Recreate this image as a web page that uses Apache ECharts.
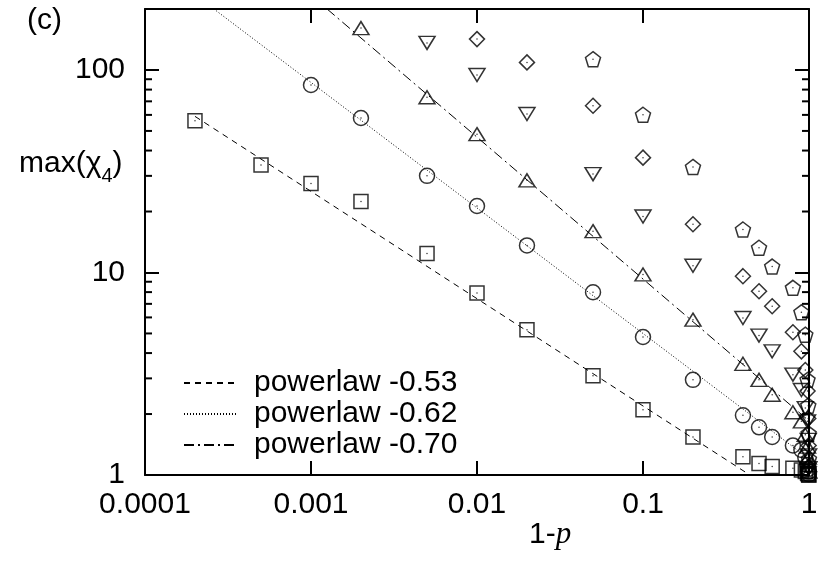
<!DOCTYPE html>
<html>
<head>
<meta charset="utf-8">
<script src="https://cdn.jsdelivr.net/npm/echarts@6/dist/echarts.min.js"></script>
<style>
  html, body { margin: 0; padding: 0; background: #fff; }
  #main { width: 818px; height: 570px; }
</style>
</head>
<body>
<div id="main"></div>
<script>
// axis ticks
const X_TICK_LABELS = ['0.0001', '0.001', '0.01', '0.1', '1'];
const Y_TICK_LABELS = ['1', '10', '100'];
const Y_MINOR = [2, 3, 4, 5, 6, 7, 8, 9, 20, 30, 40, 50, 60, 70, 80, 90];

// squares
const sqX = [0.0002, 0.0005, 0.001, 0.002, 0.005, 0.01, 0.02, 0.05, 0.1, 0.2, 0.4, 0.5, 0.6, 0.8, 0.9, 0.95, 0.98, 0.99, 0.995, 0.999];
const sqY = [56.1, 33.9, 27.5, 22.4, 12.4, 7.93, 5.22, 3.09, 2.10, 1.54, 1.23, 1.14, 1.10, 1.08, 1.06, 1.04, 1.02, 1.01, 1.0, 1.0];
// circles
const ciX = [0.001, 0.002, 0.005, 0.01, 0.02, 0.05, 0.1, 0.2, 0.4, 0.5, 0.6, 0.8, 0.9, 0.95, 0.98, 0.99, 0.995, 0.999];
const ciY = [84.3, 57.9, 30.0, 21.3, 13.6, 7.99, 4.80, 2.95, 1.97, 1.72, 1.54, 1.40, 1.33, 1.22, 1.12, 1.07, 1.04, 1.01];
// up triangles
const upX = [0.002, 0.005, 0.01, 0.02, 0.05, 0.1, 0.2, 0.4, 0.5, 0.6, 0.8, 0.9, 0.95, 0.98, 0.99, 0.995, 0.999];
const upY = [161, 73.3, 48.2, 28.5, 16.0, 9.78, 5.85, 3.54, 2.95, 2.49, 2.04, 1.84, 1.58, 1.38, 1.22, 1.12, 1.04];
// down triangles
const dnX = [0.005, 0.01, 0.02, 0.05, 0.1, 0.2, 0.4, 0.5, 0.6, 0.8, 0.9, 0.95, 0.98, 0.99, 0.995, 0.999];
const dnY = [136, 94.4, 60.6, 30.6, 18.9, 10.8, 5.96, 4.88, 4.08, 3.13, 2.63, 2.14, 1.84, 1.49, 1.25, 1.08];
// diamonds
const diX = [0.01, 0.02, 0.05, 0.1, 0.2, 0.4, 0.5, 0.6, 0.8, 0.9, 0.95, 0.98, 0.99, 0.995, 0.999];
const diY = [142, 109, 66.6, 36.9, 17.3, 9.59, 8.08, 6.81, 5.07, 4.08, 3.3, 2.6, 1.9, 1.4, 1.1];
// pentagons
const peX = [0.05, 0.1, 0.2, 0.4, 0.5, 0.6, 0.8, 0.9, 0.95, 0.98, 0.99, 0.995, 0.999];
const peY = [113, 60.1, 33.2, 16.3, 13.25, 10.7, 8.40, 6.36, 4.93, 2.95, 2.2, 1.6, 1.2];

// power law fits (end points)
const fit053X = [0.0002, 0.44];
const fit053Y = [59, 1];
const fit062X = [0.00026, 1];
const fit062Y = [200, 1.2];
const fit070X = [0.00125, 1];
const fit070Y = [200, 1.85];

const FONT = "'Liberation Sans', Arial, sans-serif";
const X_MIN = 0.0001, X_MAX = 1, Y_MIN = 1, Y_MAX = 200;

function zip(xs, ys) {
  return xs.map((x, i) => [x, ys[i]]);
}
function decade(v) {
  return Math.round(Math.log10(v));
}
function isPow10(v) {
  const l = Math.log10(v);
  return Math.abs(l - Math.round(l)) < 1e-6;
}

const pentagon = 'path://M0,-1L0.951,-0.309L0.588,0.809L-0.588,0.809L-0.951,-0.309Z';
const markStyle = { color: 'rgba(0,0,0,0)', borderColor: '#000', borderWidth: 1.5 };

function scatter(name, xs, ys, symbol, size, rotate) {
  return {
    name: name,
    type: 'scatter',
    data: zip(xs, ys),
    symbol: symbol,
    symbolSize: size,
    symbolRotate: rotate || 0,
    itemStyle: markStyle,
    z: 4,
    silent: true
  };
}
function fitLine(name, xs, ys, dash) {
  return {
    name: name,
    type: 'line',
    data: zip(xs, ys),
    symbol: 'none',
    lineStyle: { color: '#000', width: 1, type: dash },
    z: 3,
    silent: true
  };
}

const allPts = [].concat(zip(sqX, sqY), zip(ciX, ciY), zip(upX, upY), zip(dnX, dnY), zip(diX, diY), zip(peX, peY));

const xAxisBase = {
  type: 'log', logBase: 10, min: X_MIN, max: X_MAX,
  axisLine: { show: true, lineStyle: { color: '#000', width: 2 } },
  axisTick: { show: true, inside: true, length: 14, lineStyle: { color: '#000', width: 2 } },
  splitLine: { show: false }
};
const yAxisBase = {
  type: 'log', logBase: 10, min: Y_MIN, max: Y_MAX,
  axisLine: { show: true, lineStyle: { color: '#000', width: 2 } },
  axisTick: { show: true, inside: true, length: 14, lineStyle: { color: '#000', width: 2 } },
  splitLine: { show: false }
};

const chart = echarts.init(document.getElementById('main'));
const option = {
  animation: false,
  backgroundColor: '#fff',
  grid: { left: 145, right: 9, top: 9, bottom: 95, containLabel: false, outerBoundsMode: 'none' },
  xAxis: [
    Object.assign({}, xAxisBase, {
      position: 'bottom',
      axisLabel: {
        margin: 15, color: '#000', fontSize: 30, fontFamily: FONT,
        formatter: v => isPow10(v) ? X_TICK_LABELS[decade(v) + 4] : ''
      }
    }),
    Object.assign({}, xAxisBase, { position: 'top', axisLabel: { show: false } })
  ],
  yAxis: [
    Object.assign({}, yAxisBase, {
      position: 'left',
      axisLabel: {
        margin: 20, color: '#000', fontSize: 30, fontFamily: FONT,
        formatter: v => isPow10(v) ? Y_TICK_LABELS[decade(v)] : ''
      }
    }),
    Object.assign({}, yAxisBase, { position: 'right', axisLabel: { show: false } })
  ],
  legend: {
    data: ['powerlaw -0.53', 'powerlaw -0.62', 'powerlaw -0.70'],
    orient: 'vertical',
    left: 183, top: 368, padding: 0,
    itemWidth: 52, itemHeight: 14, itemGap: 1,
    itemStyle: { color: 'rgba(0,0,0,0)', borderWidth: 0 },
    textStyle: { color: '#000', fontSize: 30, fontFamily: FONT, lineHeight: 30, padding: [0, 0, 0, 13] },
    selectedMode: false
  },
  graphic: [
    { type: 'text', left: 27, top: 6, style: { text: '(c)', fontSize: 30, fontFamily: FONT, fill: '#000' } },
    {
      type: 'text', left: 19, top: 149,
      style: {
        text: '{n|max(χ}{s|4}{n|)}',
        rich: {
          n: { fontSize: 30, fontFamily: FONT, lineHeight: 44, color: '#000' },
          s: { fontSize: 20, fontFamily: FONT, lineHeight: 16, verticalAlign: 'bottom', color: '#000' }
        }
      }
    },
    {
      type: 'text', left: 529, top: 519,
      style: {
        text: '{n|1-}{i|p}',
        rich: {
          n: { fontSize: 30, fontFamily: FONT, lineHeight: 30, color: '#000' },
          i: { fontSize: 31, fontFamily: "'Liberation Serif', 'Times New Roman', serif", fontStyle: 'italic', lineHeight: 30, color: '#000' }
        }
      }
    }
  ],
  series: [
    fitLine('powerlaw -0.53', fit053X, fit053Y, [6, 5]),
    fitLine('powerlaw -0.62', fit062X, fit062Y, [1, 2]),
    fitLine('powerlaw -0.70', fit070X, fit070Y, [10, 4, 2, 4]),
    scatter('squares', sqX, sqY, 'rect', 14),
    scatter('circles', ciX, ciY, 'circle', 15),
    scatter('up', upX, upY, 'triangle', [16, 13]),
    scatter('down', dnX, dnY, 'triangle', [16, 13], 180),
    scatter('diamonds', diX, diY, 'diamond', [15, 15]),
    scatter('pentagons', peX, peY, pentagon, [15, 15]),
    {
      name: 'dots', type: 'scatter', data: allPts, symbol: 'circle', symbolSize: 1.5,
      itemStyle: { color: '#000' }, z: 5, silent: true
    },
    {
      name: 'minor', type: 'custom', silent: true, z: 6,
      data: Y_MINOR.map(v => [X_MIN, v]),
      encode: { x: 0, y: 1 },
      renderItem: function (params, api) {
        const v = api.value(1);
        const l = api.coord([X_MIN, v]);
        const r = api.coord([X_MAX, v]);
        return {
          type: 'group',
          children: [
            { type: 'line', shape: { x1: l[0], y1: l[1], x2: l[0] + 7, y2: l[1] }, style: { stroke: '#000', lineWidth: 2 } },
            { type: 'line', shape: { x1: r[0] - 7, y1: r[1], x2: r[0], y2: r[1] }, style: { stroke: '#000', lineWidth: 2 } }
          ]
        };
      }
    }
  ]
};
chart.setOption(option);
</script>
</body>
</html>
